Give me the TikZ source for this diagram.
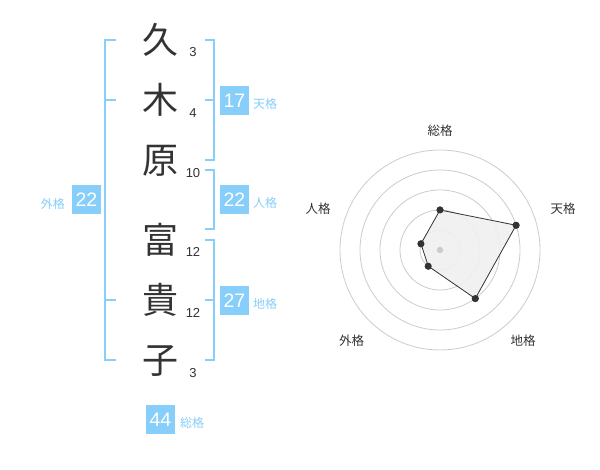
\documentclass[tikz,border=0pt]{standalone}
\usepackage{fontspec}
\setmainfont{Liberation Sans}
\newfontfamily\jp{Noto Sans CJK JP}
\usetikzlibrary{calc}
\definecolor{sky}{RGB}{135,206,250}
\definecolor{ink}{RGB}{51,51,51}
\definecolor{ring}{RGB}{204,204,204}
\tikzset{kanji/.style={text=ink, font=\jp\fontsize{36}{36}\selectfont, inner sep=0pt}}
\tikzset{strokes/.style={text=ink, font=\fontsize{13}{13}\selectfont, inner sep=0pt}}
\tikzset{bracket/.style={line width=2pt, sky}}
\tikzset{score/.style={fill=sky, text=white, minimum size=29pt, inner sep=0pt, font=\fontsize{19.5}{19.5}\selectfont}}
\tikzset{kaku/.style={text=sky, font=\jp\fontsize{12}{12}\selectfont, inner sep=0pt}}
\tikzset{axis/.style={text=ink, font=\jp\fontsize{12.5}{12.5}\selectfont, inner sep=0pt}}
\tikzset{dot/.style={circle, fill=ink, inner sep=0pt, minimum size=7pt}}

\begin{document}
\begin{tikzpicture}[x=1pt,y=1pt]
\fill[white] (0,0) rectangle (600,470);
\useasboundingbox (0,0) rectangle (600,470);

% name and stroke counts
\node (k1) at (160,430)[kanji]{久};
\node (k2) at (160,370)[kanji]{木};
\node (k3) at (160,309)[kanji]{原};
\node (k4) at (160,230)[kanji]{富};
\node (k5) at (160,170)[kanji]{貴};
\node (k6) at (160,109)[kanji]{子};
\node (s1) at (193,418)[strokes]{3};
\node (s2) at (193,357)[strokes]{4};
\node (s3) at (193,297)[strokes]{10};
\node (s4) at (193,218)[strokes]{12};
\node (s5) at (193,157)[strokes]{12};
\node (s6) at (193,97)[strokes]{3};

% brackets
\draw[bracket] (116,430)--(105,430)--(105,110)--(116,110);
\draw[bracket] (105,370)--(116,370);
\draw[bracket] (105,170)--(116,170);
\draw[bracket] (205,430)--(214,430)--(214,310)--(205,310);
\draw[bracket] (205,370)--(214,370);
\draw[bracket] (205,300)--(214,300)--(214,241)--(205,241);
\draw[bracket] (205,230)--(214,230)--(214,110)--(205,110);
\draw[bracket] (205,170)--(214,170);

% scores
\node (gai) at (86.5,270)[score]{22};
\node (ten) at (234.5,369)[score]{17};
\node (jin) at (234.5,270)[score]{22};
\node (chi) at (234.5,169.5)[score]{27};
\node (sou) at (160.5,50.5)[score]{44};
\node (gail) at (65,266.5)[kaku, anchor=east]{外格};
\node (tenl) at (253,366)[kaku, anchor=west]{天格};
\node (jinl) at (253,267)[kaku, anchor=west]{人格};
\node (chil) at (253,166)[kaku, anchor=west]{地格};
\node (soul) at (180,47.5)[kaku, anchor=west]{総格};

%now draw the radar chart
\coordinate (c) at (440,220);
\foreach \r in {20,40,60,80,100} \draw[ring, line width=0.8pt] (c) circle (\r pt);
\node (a1) at (440,339.3)[axis]{総格};
\node (a2) at (563,261.3)[axis]{天格};
\node (a3) at (523,129)[axis]{地格};
\node (a4) at (351.7,129)[axis]{外格};
\node (a5) at (318,261.3)[axis]{人格};
\node (p1) at ($(c)+(90:40)$)[dot]{};
\node (p2) at ($(c)+(18:80)$)[dot]{};
\node (p3) at ($(c)+(-54:60)$)[dot]{};
\node (p4) at ($(c)+(-126:20)$)[dot]{};
\node (p5) at ($(c)+(162:20)$)[dot]{};
\fill[black!6, opacity=0.9] (p1.center)--(p2.center)--(p3.center)--(p4.center)--(p5.center)--cycle;
\draw[ink, line width=0.8pt] (p1.center)--(p2.center)--(p3.center)--(p4.center)--(p5.center)--cycle;
\foreach \p in {p1,p2,p3,p4,p5} \fill[ink] (\p) circle (3.5pt);
\fill[ring] (c) circle (3.2pt);
\end{tikzpicture}
\end{document}
